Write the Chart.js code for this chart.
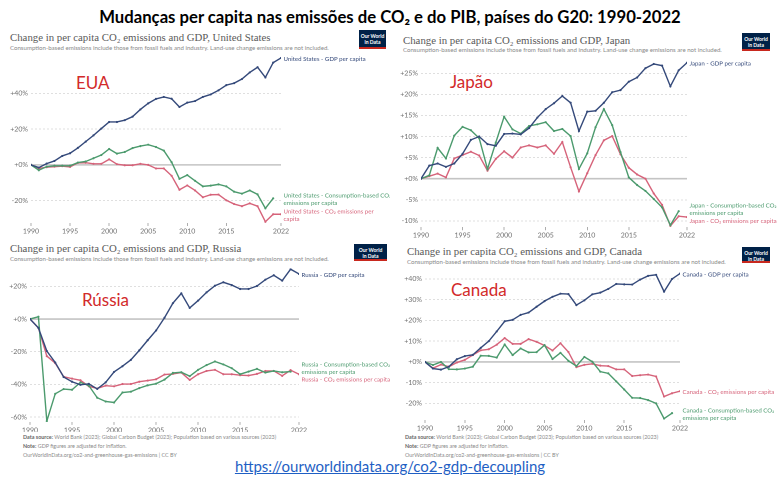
<!DOCTYPE html>
<html><head><meta charset="utf-8">
<script src="https://cdn.jsdelivr.net/npm/chart.js@4.4.1/dist/chart.umd.min.js"></script>
<style>
html,body{margin:0;padding:0;background:#fff;}
body{width:780px;height:481px;overflow:hidden;position:relative;font-family:Lato,"Noto Sans",sans-serif;}
.t{position:absolute;white-space:nowrap;line-height:1;}
canvas{position:absolute;}
.main{left:0;width:780px;text-align:center;font-weight:bold;font-size:16.7px;color:#000;top:9px;}
.ptitle{font-family:"Liberation Serif","DejaVu Serif",serif;font-size:10.8px;color:#5a5a5a;}
.psub{font-size:6.1px;color:#8a8a8a;}
.logo{position:absolute;background:#002147;color:#fff;font-size:5px;line-height:6px;text-align:center;border-bottom:2px solid #c8281e;box-sizing:border-box;padding-top:3px;font-weight:bold;}
.country{font-size:17px;color:#d22a2a;}
.foot{font-size:5.4px;color:#8a8a8a;}
.foot b{color:#666;}
.url{left:0;width:780px;text-align:center;font-size:15px;color:#1f5fc4;text-decoration:underline;top:459px;}
</style>
</head><body>
<div class="t main">Mudanças per capita nas emissões de CO₂ e do PIB, países do G20: 1990-2022</div>

<div class="t ptitle" style="left:10px;top:32px;">Change in per capita CO₂ emissions and GDP, United States</div>
<div class="t psub" style="left:10px;top:45px;">Consumption-based emissions include those from fossil fuels and industry. Land-use change emissions are not included.</div>
<div class="logo" style="left:359px;top:30px;width:27px;height:19px;">Our World<br>in Data</div>
<div class="t country" style="left:76px;top:74px;">EUA</div>

<div class="t ptitle" style="left:403px;top:35px;">Change in per capita CO₂ emissions and GDP, Japan</div>
<div class="t psub" style="left:403px;top:47px;">Consumption-based emissions include those from fossil fuels and industry. Land-use change emissions are not included.</div>
<div class="logo" style="left:742px;top:33px;width:28px;height:18px;">Our World<br>in Data</div>
<div class="t country" style="left:450px;top:73px;">Japão</div>

<div class="t ptitle" style="left:10px;top:243px;">Change in per capita CO₂ emissions and GDP, Russia</div>
<div class="t psub" style="left:10px;top:256px;">Consumption-based emissions include those from fossil fuels and industry. Land-use change emissions are not included.</div>
<div class="logo" style="left:354px;top:244px;width:33px;height:17px;">Our World<br>in Data</div>
<div class="t country" style="left:82px;top:291px;">Rússia</div>
<div class="t foot" style="left:23px;top:435px;"><b>Data source:</b> World Bank (2023); Global Carbon Budget (2023); Population based on various sources (2023)</div>
<div class="t foot" style="left:23px;top:444px;"><b>Note:</b> GDP figures are adjusted for inflation.</div>
<div class="t foot" style="left:23px;top:453px;">OurWorldInData.org/co2-and-greenhouse-gas-emissions | CC BY</div>

<div class="t ptitle" style="left:407px;top:246px;">Change in per capita CO₂ emissions and GDP, Canada</div>
<div class="t psub" style="left:407px;top:259px;">Consumption-based emissions include those from fossil fuels and industry. Land-use change emissions are not included.</div>
<div class="logo" style="left:742px;top:247px;width:28px;height:16px;">Our World<br>in Data</div>
<div class="t country" style="left:451px;top:281px;">Canada</div>
<div class="t foot" style="left:405px;top:435px;"><b>Data source:</b> World Bank (2023); Global Carbon Budget (2023); Population based on various sources (2023)</div>
<div class="t foot" style="left:405px;top:444px;"><b>Note:</b> GDP figures are adjusted for inflation.</div>
<div class="t foot" style="left:405px;top:453px;">OurWorldInData.org/co2-and-greenhouse-gas-emissions | CC BY</div>

<div class="t url">https://ourworldindata.org/co2-gdp-decoupling</div>

<canvas id="cUS"></canvas>
<canvas id="cJP"></canvas>
<canvas id="cRU"></canvas>
<canvas id="cCA"></canvas>

<script>
// ---------- DATA ----------
const years = [1990,1991,1992,1993,1994,1995,1996,1997,1998,1999,2000,2001,2002,2003,2004,2005,2006,2007,2008,2009,2010,2011,2012,2013,2014,2015,2016,2017,2018,2019,2020,2021,2022];
const xTickYears = [1990,1995,2000,2005,2010,2015,2022];

const usGdp  = [0,-1.5,0.7,2.2,5,6.5,9.5,13,16.5,20.3,24,24,25,27,31,34.4,36.9,38,37,32.4,34.8,35.7,38,39.4,41.7,44.6,45.7,48,51.7,54.6,48.9,57.2,59.8];
const usCons = [0,-3,-1,-0.5,-0.5,-0.5,1.3,1.9,3.7,5.5,8.9,6.3,7.2,9.4,10.5,11.3,10,8,1.5,-7.8,-5.7,-8.9,-12,-11.6,-10.9,-12,-15,-16.1,-14.3,-16.5,-24.3,-18.7];
const usCo2  = [0,-2,-1.3,-1,-0.7,-1.1,1.1,1.2,0.6,0.6,3.1,0.4,-0.2,-0.2,0.6,0,-2,-2,-6.1,-13.9,-11.5,-14.3,-18.1,-16.7,-16.6,-19.8,-21.9,-23.1,-21.5,-23.1,-31.8,-27.6,-27.6];

const jpGdp  = [0,3.1,3.6,2.8,3.6,5.9,9.2,10,8.2,7.8,10.6,10.7,10.5,12,14.5,16.5,17.9,19.6,18,11.3,15.9,16.1,18,20.5,21,23,24,26.2,27.2,26.8,21.9,25.7,27.5];
const jpCons = [0,0.8,7.3,4.8,10.2,12.3,11.5,9.6,2.3,8.6,14.7,11.7,10.7,12.5,12.9,13.4,11.3,11.8,10.1,2.3,6,12.2,16.5,12.7,6.3,0.3,-1.5,-2.9,-4.8,-6.8,-11,-7.7];
const jpCo2  = [0,0.6,1.2,0.3,4.8,5.6,6.4,5.5,1.9,4.7,6.5,5,7.4,7.9,7.4,7.9,5.9,8.7,2.7,-3,1.3,5.6,9.1,10.1,5.8,2.6,1,0,-3.5,-6.2,-11.2,-8.9,-9.1];

const ruGdp  = [0,-5.4,-19.6,-26.6,-35.5,-38.4,-40.3,-39.7,-42.8,-38.8,-32.4,-28.9,-25,-19.2,-13,-7,0.8,9.7,15.7,6.8,11.3,16.3,20.4,22.5,20.8,18.4,18.4,20.2,24.1,26.8,23.5,30.5,27.6];
const ruCons = [0,1.4,-62.5,-45.8,-42.9,-43.3,-38.8,-40.8,-48.2,-50.5,-51.1,-45,-44.5,-42.3,-40.6,-39.6,-37.1,-33,-32.6,-35,-31.1,-28.2,-26,-27.8,-30.1,-33.8,-32.2,-30.5,-32.8,-31.8,-32.6,-32.2];
const ruCo2  = [0,-5.4,-22.7,-27,-35.3,-36.5,-37.5,-41.2,-42.5,-40.8,-41.2,-39.8,-39.8,-38.4,-37.7,-36.9,-34,-33.6,-32.8,-37.3,-33.8,-31.8,-31.1,-33.8,-33.8,-34.4,-34.6,-33.6,-31.8,-31.8,-34.8,-31.3,-33.8];

const caGdp  = [0,-3.2,-3.7,-2.3,1.3,2.8,3.4,6.8,10,14.7,19.6,20.3,22.7,23.8,26.6,29.3,31.4,32.9,32.7,27.4,29.7,32.6,33.4,35.2,37.6,37.4,37.3,39.7,41.5,42,33.9,40,42.6];
const caCo2  = [0,-3,-1.3,-2.3,-0.3,1,3.3,5.6,6.1,8.3,11.5,8.7,8.7,11,9.7,7.9,5.5,9,4.8,-2.5,-1.4,-0.9,-1.8,-2,-3.6,-3.6,-6.8,-6.4,-6.1,-7,-16.7,-15.1,-14.1];
const caCons = [0,-1.5,0,-3.5,-3.6,-3.2,-2.3,3,2.9,2.1,8.4,3.3,6.5,4.6,4.7,8.1,1.4,4.4,0.5,-2,2.4,0.1,-4.7,-5.5,-9.4,-13.3,-17.3,-17.4,-18.4,-20,-27.3,-24.7];

const usTicks = [-20,0,20,40];
const jpTicks = [-10,-5,0,5,10,15,20,25];
const ruTicks = [-60,-40,-20,0,20];
const caTicks = [-20,-10,0,10,20,30,40];

const usLabels = [["United States - GDP per capita"],["United States - Consumption-based CO₂","emissions per capita"],["United States - CO₂ emissions per","capita"]];
const jpLabels = [["Japan - GDP per capita"],["Japan - Consumption-based CO₂","emissions per capita"],["Japan - CO₂ emissions per capita"]];
const ruLabels = [["Russia - GDP per capita"],["Russia - Consumption-based CO₂","emissions per capita"],["Russia - CO₂ emissions per capita"]];
const caLabels = [["Canada - GDP per capita"],["Canada - Consumption-based CO₂","emissions per capita"],["Canada - CO₂ emissions per capita"]];

// ---------- STYLE ----------
const C_GDP = '#34497a', C_CONS = '#4b9a6d', C_CO2 = '#d6637a';
const LABEL_FONT = 6.1, LABEL_LH = 7.4;

const pts = vals => vals.map((v,i)=>({x:years[i], y:v}));

const zeroLine = {
  id:'zeroLine',
  beforeDatasetsDraw(chart){
    const y = chart.scales.y.getPixelForValue(0), a = chart.chartArea, ctx = chart.ctx;
    ctx.save(); ctx.strokeStyle='#c4c4c4'; ctx.lineWidth=1.6;
    ctx.beginPath(); ctx.moveTo(a.left, y); ctx.lineTo(a.right, y); ctx.stroke(); ctx.restore();
  }
};
const endLabels = {
  id:'endLabels',
  afterDatasetsDraw(chart){
    const ctx = chart.ctx, a = chart.chartArea;
    const items = chart.data.datasets.map((ds,i)=>{
      const m = chart.getDatasetMeta(i); const p = m.data[m.data.length-1];
      const h = ds.endLabel.length*LABEL_LH;
      return {c:p.y, h, lines:ds.endLabel, color:ds.borderColor};
    }).sort((p,q)=>p.c-q.c);
    for(let it=0; it<60; it++){
      for(let k=0;k<items.length-1;k++){
        const A=items[k], B=items[k+1];
        const need=(A.h+B.h)/2+0.5, have=B.c-A.c;
        if(have<need){ const d=(need-have)/2; A.c-=d; B.c+=d; }
      }
    }
    ctx.save();
    ctx.font = LABEL_FONT+'px Lato, sans-serif';
    ctx.textBaseline='middle';
    items.forEach(it=>{
      ctx.fillStyle = it.color;
      const top = it.c - it.h/2 + 1;
      it.lines.forEach((ln,j)=>ctx.fillText(ln, a.right+2.5, top + LABEL_LH*(j+0.5)));
    });
    ctx.restore();
  }
};

function makeChart(id, box, series, labels, yTicks, ymin, ymax, yW, xH, padT, padR){
  const cv = document.getElementById(id);
  cv.style.left = box.l+'px'; cv.style.top = box.t+'px';
  cv.width = box.w; cv.height = box.h;
  cv.style.width = box.w+'px'; cv.style.height = box.h+'px';
  const datasets = series.map((s,i)=>({
    data: pts(s.vals), borderColor: s.color, backgroundColor: s.color,
    borderWidth: 1.4, pointRadius: 1.1, pointHoverRadius: 1.1, pointBorderWidth:0,
    tension: 0, endLabel: labels[i]
  }));
  return new Chart(cv, {
    type:'line',
    data:{datasets},
    plugins:[zeroLine, endLabels],
    options:{
      responsive:false, animation:false, devicePixelRatio:2,
      layout:{padding:{left:0, right:padR, top:padT, bottom:0}},
      plugins:{legend:{display:false}, tooltip:{enabled:false}},
      scales:{
        x:{type:'linear', min:1990, max:2022,
           afterBuildTicks:s=>{s.ticks = xTickYears.map(v=>({value:v}));},
           afterFit:s=>{s.height = xH; s.paddingLeft=0; s.paddingRight=0;},
           grid:{drawOnChartArea:false, drawTicks:true, tickLength:3, color:'#9a9a9a', lineWidth:0.8},
           border:{display:false},
           ticks:{autoSkip:false, maxRotation:0, padding:1, color:'#6f6f6f', font:{size:7, family:'Lato'}, callback:v=>String(v)}
        },
        y:{min:ymin, max:ymax,
           afterBuildTicks:s=>{s.ticks = yTicks.map(v=>({value:v}));},
           afterFit:s=>{s.width = yW; s.paddingTop=0; s.paddingBottom=0;},
           grid:{drawTicks:false, color:'#d8d8d8', lineWidth:0.8},
           border:{display:false, dash:[2,2]},
           ticks:{padding:3, color:'#6f6f6f', font:{size:7, family:'Lato'}, callback:v=>(v>=0?'+':'')+v+'%'}
        }
      }
    }
  });
}

makeChart('cUS', {l:0,t:40,w:390,h:200},
  [{vals:usGdp,color:C_GDP},{vals:usCons,color:C_CONS},{vals:usCo2,color:C_CO2}],
  usLabels, usTicks, -32.5, 60.5, 31, 17, 16.7, 109);
makeChart('cJP', {l:390,t:40,w:390,h:205},
  [{vals:jpGdp,color:C_GDP},{vals:jpCons,color:C_CONS},{vals:jpCo2,color:C_CO2}],
  jpLabels, jpTicks, -11.5, 28, 31, 17.8, 20.6, 93);
makeChart('cRU', {l:0,t:250,w:390,h:182},
  [{vals:ruGdp,color:C_GDP},{vals:ruCons,color:C_CONS},{vals:ruCo2,color:C_CO2}],
  ruLabels, ruTicks, -63, 31, 30, 10.1, 18.4, 91);
makeChart('cCA', {l:390,t:250,w:390,h:182},
  [{vals:caGdp,color:C_GDP},{vals:caCons,color:C_CONS},{vals:caCo2,color:C_CO2}],
  caLabels, caTicks, -28, 43.5, 35, 12, 21.7, 100);
</script>
</body></html>
